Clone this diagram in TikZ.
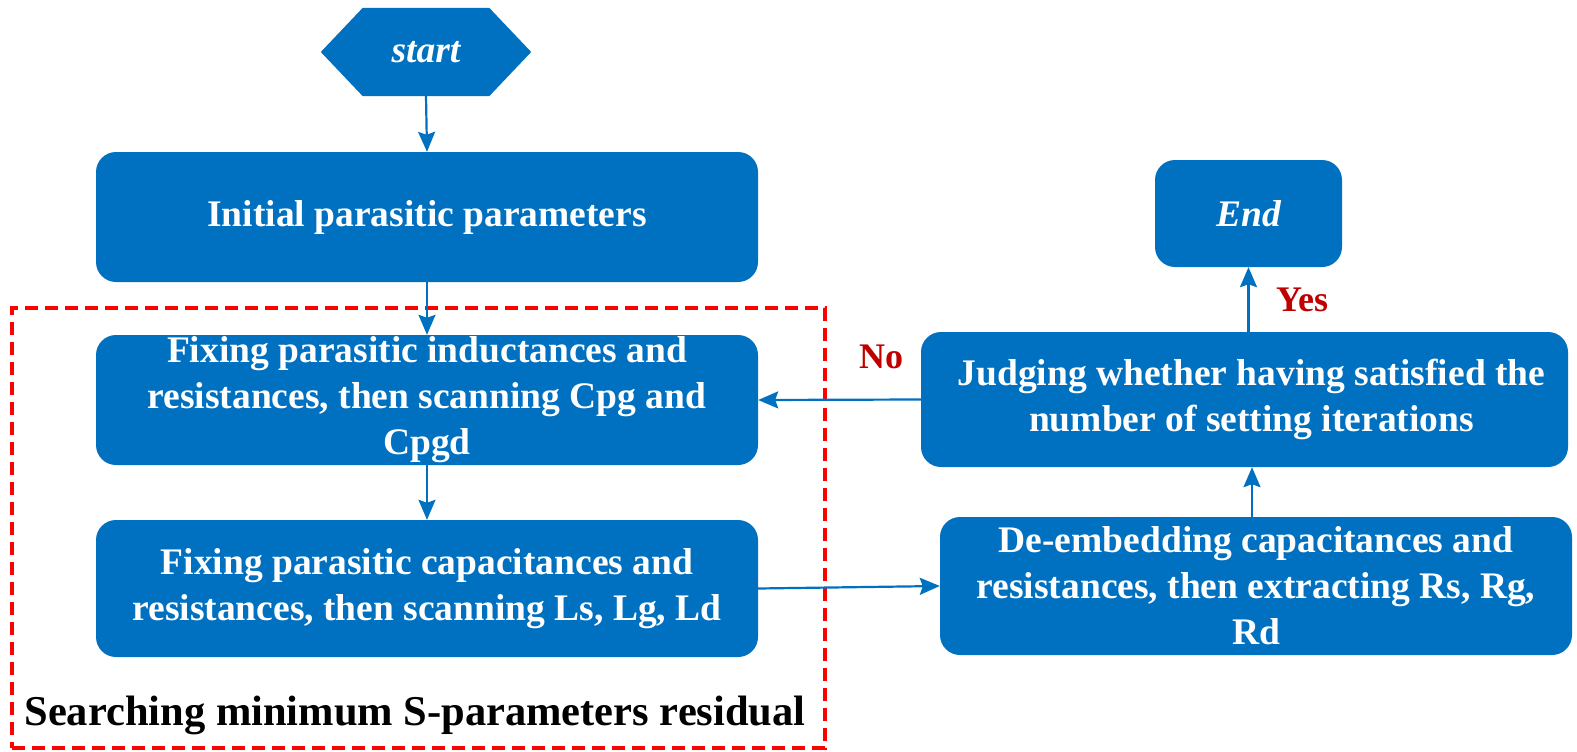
\documentclass[tikz,border=0pt]{standalone}
\usepackage{fontspec}
\setmainfont{Liberation Serif}
\usetikzlibrary{arrows.meta}
\definecolor{boxblue}{HTML}{0070C0}
\definecolor{lblred}{HTML}{C00000}
\begin{document}
\begin{tikzpicture}[x=1pt,y=-1pt,
  box/.style={fill=boxblue, rounded corners=20pt, inner sep=0pt, text=white,
    font=\bfseries\fontsize{37.5}{46}\selectfont, align=center},
  arr/.style={draw=boxblue, line width=2.2pt, -{Stealth[length=20pt,width=17pt,inset=3pt]}},
  lbl/.style={text=lblred, font=\bfseries\fontsize{36}{40}\selectfont}]
\useasboundingbox (0,0) rectangle (1577,752);
% start hexagon
\node[minimum width=210pt, minimum height=88pt, inner sep=0pt] (start) at (426,52) {};
\fill[boxblue] (start.west) -- ([xshift=42pt]start.north west) -- ([xshift=-42pt]start.north east)
  -- (start.east) -- ([xshift=-42pt]start.south east) -- ([xshift=42pt]start.south west) -- cycle;
\node[text=white, font=\bfseries\itshape\fontsize{37.5}{42}\selectfont] (starttxt) at (start) {start};
% left column
\node[box, minimum width=662pt, minimum height=130pt] (init) at (427,217) {Initial parasitic parameters};
\node[box, minimum width=662pt, minimum height=130pt] (fix1) at (427,400)
  {Fixing parasitic inductances and\\resistances, then scanning Cpg and\\Cpgd};
\node[box, minimum width=662pt, minimum height=137pt] (fix2) at (427,588.5)
  {Fixing parasitic capacitances and\\resistances, then scanning Ls, Lg, Ld};
% search region
\node[draw=red, dash pattern=on 13pt off 7pt, line width=4pt, minimum width=813pt,
  minimum height=440pt, inner sep=0pt] (search) at (418.5,528) {};
\node[font=\bfseries\fontsize{42.5}{48}\selectfont, anchor=base] (searchlbl) at (415,725)
  {Searching minimum S-parameters residual};
% right column
\node[box, minimum width=187pt, minimum height=107pt] (end) at (1248.5,213.5)
  {\itshape End};
\node[box, minimum width=647pt, minimum height=135pt] (judge) at (1244.5,399.5)
  {\hspace*{14pt}Judging whether having satisfied the\\\hspace*{14pt}number of setting iterations};
\node[box, minimum width=632pt, minimum height=138pt] (deemb) at (1256,586)
  {De-embedding capacitances and\\resistances, then extracting Rs, Rg,\\Rd};
\coordinate (ax) at (1252,0);
% connectors
\draw[arr] (start.south) -- (init.north);
\draw[arr] (init.south) -- (fix1.north);
\draw[arr] (fix1.south) -- (fix2.north);
\draw[arr] (fix2.east) -- (deemb.west);
\draw[arr] (deemb.north -| ax) -- (judge.south -| ax);
\draw[arr] (judge.north -| end) -- (end.south);
\draw[arr] (judge.west) -- (fix1.east);
\node[lbl] (no) at (881,357) {No};
\node[lbl] (yes) at (1302,300) {Yes};
\end{tikzpicture}
\end{document}
